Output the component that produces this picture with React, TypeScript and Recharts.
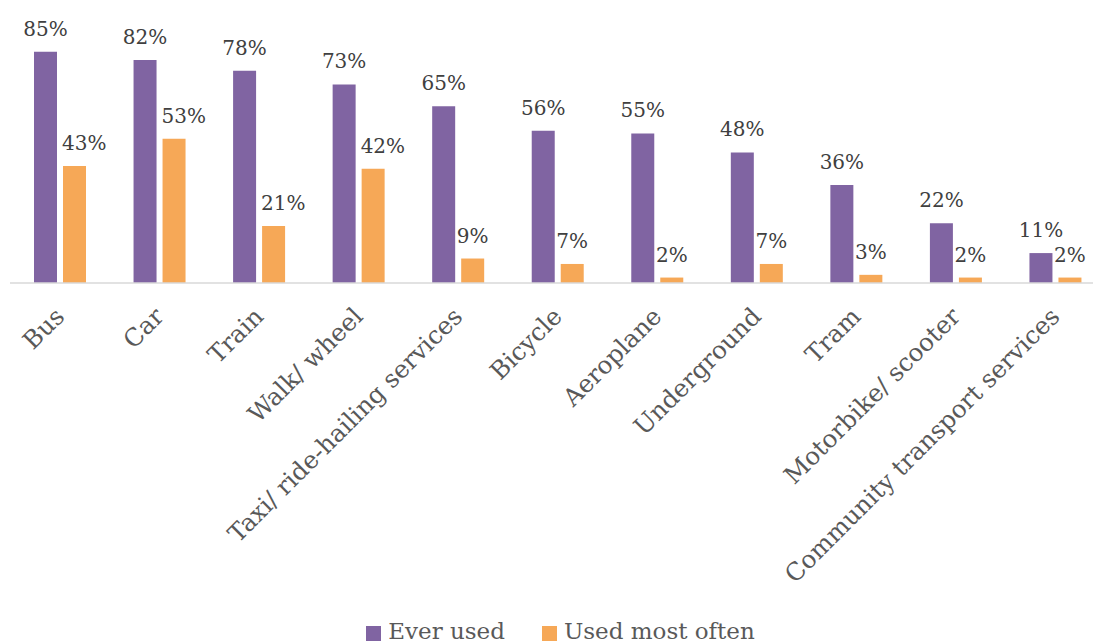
import React from "react";
import { BarChart, Bar, XAxis, YAxis, LabelList, Legend } from "recharts";

const categories = [
  "Bus",
  "Car",
  "Train",
  "Walk/ wheel",
  "Taxi/ ride-hailing services",
  "Bicycle",
  "Aeroplane",
  "Underground",
  "Tram",
  "Motorbike/ scooter",
  "Community transport services",
];
const everUsed = [85, 82, 78, 73, 65, 56, 55, 48, 36, 22, 11];
const usedMostOften = [43, 53, 21, 42, 9, 7, 2, 7, 3, 2, 2];

const data = categories.map((name, i) => ({
  name,
  ever: everUsed[i],
  often: usedMostOften[i],
}));

const FONT = "'DejaVu Serif', serif";
const PURPLE = "#8064A2";
const ORANGE = "#F6A857";

const CategoryTick = (props: any) => {
  const { x, y, payload } = props;
  return (
    <g transform={`translate(${x + 6},${y + 35})`}>
      <text
        transform="rotate(-45)"
        textAnchor="end"
        fill="#595959"
        fontSize={24.5}
        fontFamily={FONT}
      >
        {payload.value}
      </text>
    </g>
  );
};

const makeLabel = (shiftWide: boolean) => (props: any) => {
  const { x, y, width, value } = props;
  // two-digit orange labels sit left-aligned on their bar, as in the source
  const wide = shiftWide && value >= 10;
  return (
    <text
      x={wide ? x - 1 : x + width / 2}
      y={y - 16}
      textAnchor={wide ? "start" : "middle"}
      fill="#404040"
      fontSize={20}
      fontFamily={FONT}
    >
      {value}%
    </text>
  );
};

const LegendContent = () => (
  <div
    style={{
      display: "flex",
      justifyContent: "center",
      height: 42,
      marginLeft: 16,
      fontFamily: FONT,
      fontSize: 23,
      lineHeight: "27px",
      color: "#595959",
    }}
  >
    {[
      { label: "Ever used", color: PURPLE },
      { label: "Used most often", color: ORANGE },
    ].map((item, i) => (
      <div
        key={item.label}
        style={{ display: "flex", alignItems: "flex-start", marginLeft: i ? 37 : 0 }}
      >
        <span
          style={{
            width: 15,
            height: 15,
            marginTop: 8,
            marginRight: 7,
            background: item.color,
          }}
        />
        <span>{item.label}</span>
      </div>
    ))}
  </div>
);

export default function App() {
  return (
    <div
      style={{
        position: "absolute",
        left: 0,
        top: 0,
        width: 1093,
        height: 642,
        overflow: "hidden",
        background: "#fff",
      }}
    >
      <BarChart
        width={1105}
        height={660}
        data={data}
        margin={{ top: 11, right: 0, left: 10, bottom: 0 }}
        barSize={23}
        barGap={6}
      >
        <XAxis
          dataKey="name"
          interval={0}
          height={335}
          tickLine={false}
          tickSize={0}
          tickMargin={0}
          axisLine={{ stroke: "#d9d9d9", strokeWidth: 1.5 }}
          tick={<CategoryTick />}
        />
        <YAxis hide domain={[0, 100]} />
        <Legend
          verticalAlign="bottom"
          content={<LegendContent />}
          wrapperStyle={{ left: 0, width: 1105 }}
        />
        <Bar dataKey="ever" name="Ever used" fill={PURPLE} isAnimationActive={false}>
          <LabelList dataKey="ever" content={makeLabel(false)} />
        </Bar>
        <Bar dataKey="often" name="Used most often" fill={ORANGE} isAnimationActive={false}>
          <LabelList dataKey="often" content={makeLabel(true)} />
        </Bar>
      </BarChart>
    </div>
  );
}
